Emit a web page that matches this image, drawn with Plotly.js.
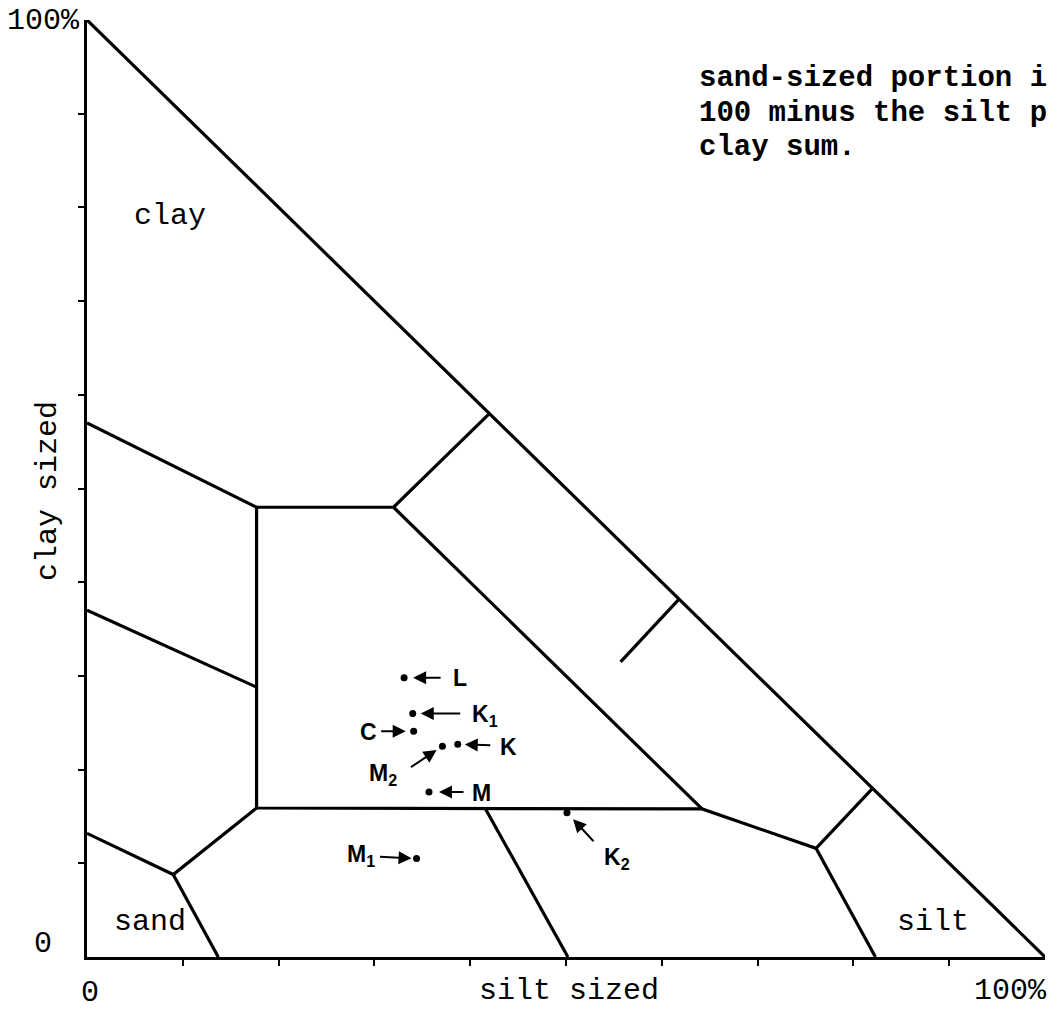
<!DOCTYPE html>
<html><head><meta charset="utf-8">
<script src="https://cdn.plot.ly/plotly-3.0.1.min.js"></script>
<style>html,body{margin:0;padding:0;background:#fff;} #chart{width:1052px;height:1010px;}</style>
</head><body><div id="chart"></div>
<script>
// ---- DATA: class boundaries (silt %, clay %) ----
const hypotenuse      = [[0,100],[100,0]];
const upperBoundary   = [[0,57],[17.7,48],[32,48],[42,58]];
const leftMidLine     = [[0,37],[17.7,28.8]];
const centralBoundary = [[17.7,48],[17.7,15.9],[64.2,15.8],[76.1,11.6],[82,18]];
const diagonalLine    = [[32,48],[64.2,15.8]];
const siltLeftLine    = [[76.1,11.6],[82.3,0]];
const shortSegment    = [[55.7,31.5],[61.8,38.2]];
const sandUpperLine   = [[0,13.2],[9,8.8],[17.7,15.9]];
const sandRightLine   = [[9,8.8],[13.7,0]];
const lowerMidLine    = [[41.6,15.8],[50.2,0]];

// ---- DATA: samples ----
const sampleNames  = ['L','K1','C','M2','K','M','M1','K2'];
const sampleLabels = ['L','K<sub>1</sub>','C','M<sub>2</sub>','K','M','M<sub>1</sub>','K<sub>2</sub>'];
const siltPct      = [33.1, 34.0, 34.1, 37.1, 38.7, 35.7, 34.4, 50.1];
const clayPct      = [29.8, 26.0, 24.1, 22.5, 22.7, 17.6, 10.5, 15.4];

// ---- DATA: text ----
const xAxisTitle = 'silt sized';
const yAxisTitle = 'clay sized';
const regionNames = ['clay','sand','silt'];
const noteLines = ['sand-sized portion i','100 minus the silt p','clay sum.'];

// ---- styling / placement ----
const L = 87, R = 7, T = 20, B = 53, W = 1052, H = 1010;
const PW = W - L - R, PH = H - T - B;
function px(x){ return (x - L) / PW; }
function py(y){ return (H - B - y) / PH; }

const segments = [hypotenuse, upperBoundary, leftMidLine, centralBoundary, diagonalLine,
  siltLeftLine, shortSegment, sandUpperLine, sandRightLine, lowerMidLine];
const bx = [], by = [];
segments.forEach(s => { s.forEach(p => { bx.push(p[0]); by.push(p[1]); }); bx.push(null); by.push(null); });

const arrowStyle = {
  L:  {ax:38, ay:0,  so:9,  dx:56,  dy:0},
  K1: {ax:49, ay:0,  so:8,  dx:72,  dy:2},
  C:  {ax:-34,ay:0,  so:8,  dx:-45, dy:1},
  M2: {ax:-33,ay:22, so:7,  dx:-59, dy:28},
  K:  {ax:34, ay:1,  so:7,  dx:51,  dy:3},
  M:  {ax:36, ay:0,  so:10, dx:52,  dy:1},
  M1: {ax:-38,ay:-2, so:5,  dx:-56, dy:-3},
  K2: {ax:28, ay:30, so:9,  dx:50,  dy:46}
};

const mono = 'Liberation Mono, Courier New, monospace';
const sans = 'Liberation Sans, Arial, sans-serif';
const ann = [];
sampleNames.forEach((n,i) => {
  const s = arrowStyle[n];
  ann.push({x:siltPct[i], y:clayPct[i], xref:'x', yref:'y', text:'', showarrow:true,
    ax:s.ax, ay:s.ay, standoff:s.so, arrowhead:2, arrowsize:1.3, arrowwidth:2, arrowcolor:'#000'});
  ann.push({x:siltPct[i], y:clayPct[i], xref:'x', yref:'y', text:sampleLabels[i], showarrow:false,
    xshift:s.dx, yshift:-s.dy, font:{family:sans, size:23, color:'#000', weight:'bold'}});
});
function lab(text, x, y, opts){
  ann.push(Object.assign({text:text, x:px(x), y:py(y), xref:'paper', yref:'paper', showarrow:false,
    xanchor:'center', yanchor:'middle', font:{family:mono, size:30, color:'#000'}}, opts||{}));
}
lab('100%', 43, 21);
lab('0', 43, 944);
lab('0', 90, 993);
lab(xAxisTitle, 569, 991);
lab('100%', 1010, 991);
lab(yAxisTitle, 48, 491, {textangle:-90});
lab(regionNames[0], 170, 216);
lab(regionNames[1], 150, 922);
lab(regionNames[2], 933, 922);
const noteY = [79, 113, 147];
noteLines.forEach((t,i) => lab(t, 697, noteY[i], {xanchor:'left', font:{family:mono, size:29, color:'#000', weight:'bold'}}));

const traces = [
  {x:bx, y:by, mode:'lines', line:{color:'#000', width:3.2}, hoverinfo:'skip', cliponaxis:false},
  {x:siltPct, y:clayPct, mode:'markers', marker:{color:'#000', size:7}, text:sampleNames, cliponaxis:false}
];
const tickv = [10,20,30,40,50,60,70,80,90];
const axisCommon = {range:[0,100], showgrid:false, zeroline:false, showline:true, linecolor:'#000', linewidth:3,
  ticks:'outside', ticklen:6, tickwidth:2, tickcolor:'#000', tickvals:tickv, showticklabels:false, fixedrange:true};
const layout = {
  width:W, height:H, margin:{l:L, r:R, t:T, b:B, pad:0},
  paper_bgcolor:'#fff', plot_bgcolor:'#fff', showlegend:false,
  xaxis:Object.assign({}, axisCommon),
  yaxis:Object.assign({}, axisCommon),
  annotations:ann
};
Plotly.newPlot('chart', traces, layout, {staticPlot:true, displayModeBar:false});
</script></body></html>
